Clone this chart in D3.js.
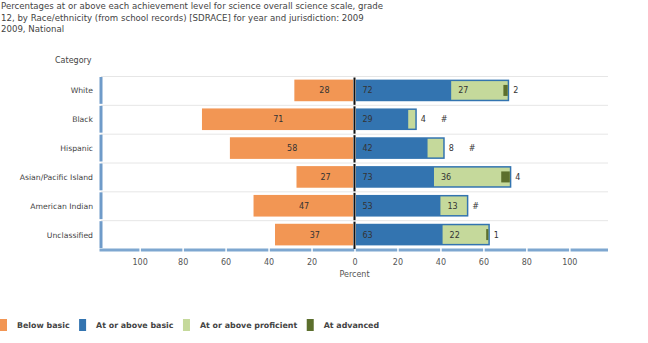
<!DOCTYPE html>
<html>
<head>
<meta charset="utf-8">
<script src="https://cdn.jsdelivr.net/npm/d3@7"></script>
<style>
  body { margin: 0; background: #fff; }
  svg { display: block; font-family: "DejaVu Sans", Verdana, sans-serif; }
</style>
</head>
<body>
<div id="chart"></div>
<script>
// Kategorien und Werte je Leistungsstufe (in Prozent)
const categories = ["White", "Black", "Hispanic", "Asian/Pacific Island", "American Indian", "Unclassified"];
const belowBasic = [28, 71, 58, 27, 47, 37];
const atOrAboveBasic = [72, 29, 42, 73, 53, 63];
const atOrAboveProficient = [27, 4, 8, 36, 13, 22];
const atAdvanced = [2, 0, 0, 4, 0, 1];           // "#" = rundet auf null
const advancedLabels = ["2", "#", "#", "4", "#", "1"];
const tickValues = [-100, -80, -60, -40, -20, 0, 20, 40, 60, 80, 100];

const titleLines = [
  "Percentages at or above each achievement level for science overall science scale, grade",
  "12, by Race/ethnicity (from school records) [SDRACE] for year and jurisdiction: 2009",
  "2009, National"
];
const legendItems = [
  { label: "Below basic", color: "#f29654" },
  { label: "At or above basic", color: "#3374b0" },
  { label: "At or above proficient", color: "#c5d99b" },
  { label: "At advanced", color: "#5c6f2d" }
];

const width = 648, height = 343;
const colors = { below: "#f29654", basic: "#3374b0", prof: "#c5d99b", adv: "#5c6f2d" };

const svg = d3.select("#chart").append("svg")
  .attr("width", width)
  .attr("height", height);

// Titel
svg.append("g").selectAll("text")
  .data(titleLines)
  .join("text")
  .attr("x", 1)
  .attr("y", (d, i) => 9 + i * 11.5)
  .attr("font-size", 8.6)
  .attr("fill", "#444")
  .text(d => d);

svg.append("text")
  .attr("x", 55).attr("y", 63)
  .attr("font-size", 8).attr("fill", "#444")
  .text("Category");

// Skalen
const x = d3.scaleLinear().domain([-118, 118]).range([101, 608]);
const y = d3.scaleBand().domain(categories).range([76, 249])
  .paddingInner(0.25).paddingOuter(0.125);
const step = y.step();
const rows = categories.map((c, i) => ({
  cat: c, below: belowBasic[i], basic: atOrAboveBasic[i],
  prof: atOrAboveProficient[i], adv: atAdvanced[i], advLabel: advancedLabels[i]
}));

// horizontale Gitterlinien
svg.append("g").selectAll("line")
  .data(categories)
  .join("line")
  .attr("x1", 101).attr("x2", 608)
  .attr("y1", d => y(d) - step * 0.125 + 0.5)
  .attr("y2", d => y(d) - step * 0.125 + 0.5)
  .attr("stroke", "#e6e6e6");

// linke Achse, in Segmenten je Kategorie
svg.append("g").selectAll("line")
  .data(categories)
  .join("line")
  .attr("x1", 101).attr("x2", 101)
  .attr("y1", d => y(d) - step * 0.125 + 1)
  .attr("y2", d => y(d) - step * 0.125 + step - 1)
  .attr("stroke", "#6f9bc9").attr("stroke-width", 3);

// Kategorienamen
svg.append("g").selectAll("text")
  .data(categories)
  .join("text")
  .attr("x", 93)
  .attr("y", d => y(d) + y.bandwidth() / 2 + 3)
  .attr("text-anchor", "end")
  .attr("font-size", 7.7).attr("fill", "#444")
  .text(d => d);

// untere Achse: dicke Linie mit weißen Lücken an den Ticks
const bottomAxis = d3.axisBottom(x)
  .tickValues(tickValues)
  .tickFormat(d => Math.abs(d))
  .tickSize(0)
  .tickPadding(9);
const axisG = svg.append("g")
  .attr("transform", "translate(0,250)")
  .call(bottomAxis);
axisG.select(".domain").remove();
axisG.insert("line", ":first-child")
  .attr("x1", 99.5).attr("x2", 608)
  .attr("stroke", "#7ea7d0").attr("stroke-width", 3);
axisG.selectAll(".tick line")
  .attr("y1", -2).attr("y2", 2)
  .attr("stroke", "#fff").attr("stroke-width", 1.5);
axisG.selectAll(".tick text")
  .attr("font-size", 8).attr("fill", "#555")
  .attr("font-family", "DejaVu Sans, Verdana, sans-serif");

svg.append("text")
  .attr("x", x(0)).attr("y", 277)
  .attr("text-anchor", "middle")
  .attr("font-size", 8).attr("fill", "#555")
  .text("Percent");

// Balken
const bars = svg.append("g").selectAll("g")
  .data(rows)
  .join("g")
  .attr("transform", d => `translate(0,${y(d.cat)})`);
const bh = y.bandwidth();

bars.append("rect")
  .attr("x", d => x(-d.below))
  .attr("width", d => x(0) - x(-d.below) - 1.5)
  .attr("height", bh)
  .attr("fill", colors.below);

bars.append("rect")
  .attr("x", x(0) + 1.5)
  .attr("width", d => x(d.basic) - x(0) - 1.5)
  .attr("height", bh)
  .attr("fill", colors.basic);

bars.append("rect")
  .attr("x", d => x(d.basic - d.prof))
  .attr("y", 1.5)
  .attr("width", d => x(d.basic) - x(d.basic - d.prof) - 1.5)
  .attr("height", bh - 3)
  .attr("fill", colors.prof);

bars.filter(d => d.adv > 0).append("rect")
  .attr("x", d => x(d.basic - d.adv) - 1.5)
  .attr("y", bh / 2 - 5.5)
  .attr("width", d => x(d.basic) - x(d.basic - d.adv))
  .attr("height", 11)
  .attr("fill", colors.adv);

// Nulllinie
svg.append("g").selectAll("line")
  .data(categories)
  .join("line")
  .attr("x1", x(0)).attr("x2", x(0))
  .attr("y1", d => y(d) - step * 0.125 + 1.5)
  .attr("y2", d => y(d) - step * 0.125 + step)
  .attr("stroke", "#111").attr("stroke-width", 2);

// Wertebeschriftungen
const ly = bh / 2 + 3;
const lab = sel => sel.attr("y", ly).attr("font-size", 8).attr("fill", "#333");

bars.append("text").call(lab)
  .attr("x", d => (x(-d.below) + x(0)) / 2)
  .attr("text-anchor", "middle")
  .text(d => d.below);

bars.append("text").call(lab)
  .attr("x", x(0) + 8)
  .text(d => d.basic);

bars.append("text").call(lab)
  .attr("x", d => d.prof >= 10 ? x(d.basic - d.prof) + 7 : x(d.basic) + 4)
  .text(d => d.prof);

bars.append("text").call(lab)
  .attr("x", d => d.prof >= 10 ? x(d.basic) + 4 : x(d.basic) + 24)
  .text(d => d.advLabel);

// Legende
let lx = 0;
const legend = svg.append("g").attr("transform", "translate(0,319)");
legendItems.forEach(item => {
  const g = legend.append("g").attr("transform", `translate(${lx},0)`);
  g.append("rect").attr("width", 7).attr("height", 12).attr("fill", item.color);
  const t = g.append("text")
    .attr("x", 17).attr("y", 9)
    .attr("font-size", 7.9).attr("font-weight", "bold").attr("fill", "#444")
    .text(item.label);
  lx += 17 + t.node().getComputedTextLength() + 9.5;
});
</script>
</body>
</html>
